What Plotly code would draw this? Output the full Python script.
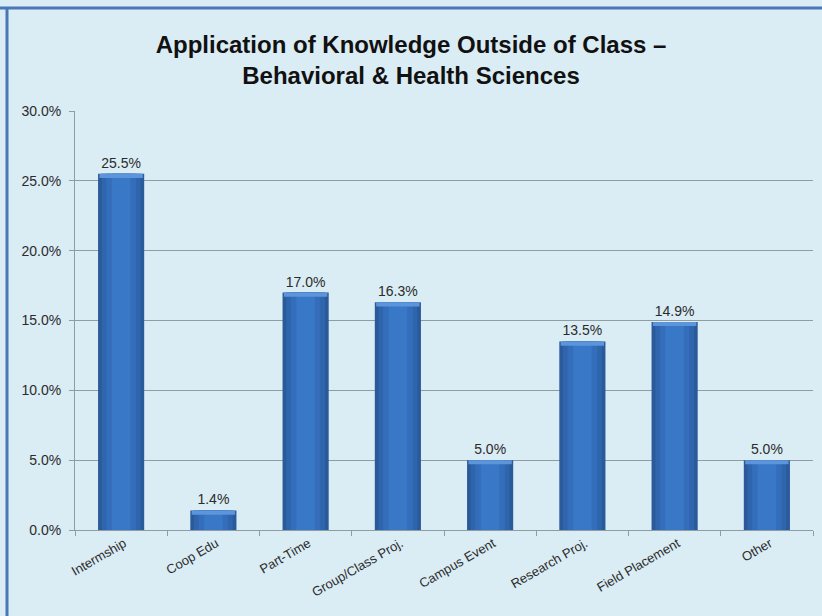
import plotly.graph_objects as go

categories = ["Intermship", "Coop Edu", "Part-Time", "Group/Class Proj.",
              "Campus Event", "Research Proj.", "Field Placement", "Other"]
values = [25.5, 1.4, 17.0, 16.3, 5.0, 13.5, 14.9, 5.0]
y_ticks = [0, 5, 10, 15, 20, 25, 30]
title_text = "Application of Knowledge Outside of Class –<br>Behavioral & Health Sciences"

BG = "#DAECF4"
GRID = "#8E9CA4"
TXT = "#2B2B2B"
FONT = "Liberation Sans, Arial, sans-serif"

fig = go.Figure()
# base (dark edges) with labels
fig.add_trace(go.Bar(
    x=categories, y=values, width=0.5,
    marker=dict(color="#2A5A9A", line=dict(width=0)),
    text=[f"{v:.1f}%" for v in values], textposition="outside",
    textfont=dict(family=FONT, size=14, color=TXT),
    cliponaxis=False, hoverinfo="skip", showlegend=False))
# inner lighter layers to mimic gradient
for w, c in [(0.42, "#2F65AC"), (0.32, "#346EBB"), (0.2, "#3977C7")]:
    fig.add_trace(go.Bar(
        x=categories, y=values, width=w,
        marker=dict(color=c, line=dict(width=0)),
        hoverinfo="skip", showlegend=False))
# top highlight strip
strip = 0.3
fig.add_trace(go.Bar(
    x=categories, y=[strip] * len(values), base=[v - strip for v in values], width=0.47,
    marker=dict(color="#5C95DA", line=dict(width=0)),
    hoverinfo="skip", showlegend=False))

fig.update_layout(
    width=822, height=616,
    margin=dict(l=75, r=9, t=111, b=86),
    paper_bgcolor=BG, plot_bgcolor=BG,
    barmode="overlay", bargap=0.5,
    title=dict(text=title_text, x=0.5, xanchor="center", y=1 - 53 / 616, yanchor="top",
               font=dict(family=FONT, size=24, color="#111111", weight="bold")),
    font=dict(family=FONT, size=13, color=TXT),
    xaxis=dict(tickangle=-30, showgrid=False, showline=True, linecolor=GRID, linewidth=1,
               ticks="outside", tickson="boundaries", ticklen=5, tickcolor=GRID,
               tickfont=dict(size=13, color=TXT), ticklabelshift=3),
    yaxis=dict(range=[0, 30], tickvals=y_ticks, ticktext=[f"{t:.1f}%" for t in y_ticks],
               showgrid=True, gridcolor=GRID, gridwidth=1, zeroline=False,
               showline=True, linecolor=GRID, linewidth=1,
               ticks="outside", ticklen=5, tickcolor=GRID, ticklabelstandoff=5,
               tickfont=dict(size=14, color=TXT)),
    shapes=[
        dict(type="line", xref="paper", yref="paper", x0=-75 / 738, x1=1 + 9 / 738,
             y0=1 + (111 - 8) / 419, y1=1 + (111 - 8) / 419,
             line=dict(color="#4A78B6", width=3)),
        dict(type="line", xref="paper", yref="paper", x0=-(75 - 7) / 738, x1=-(75 - 7) / 738,
             y0=1 + (111 - 8) / 419, y1=-86 / 419,
             line=dict(color="#4A78B6", width=3)),
    ],
)

fig.write_html("out.html", config={"displayModeBar": False},
               post_script="document.body.style.margin='0';document.body.style.overflow='hidden';")
